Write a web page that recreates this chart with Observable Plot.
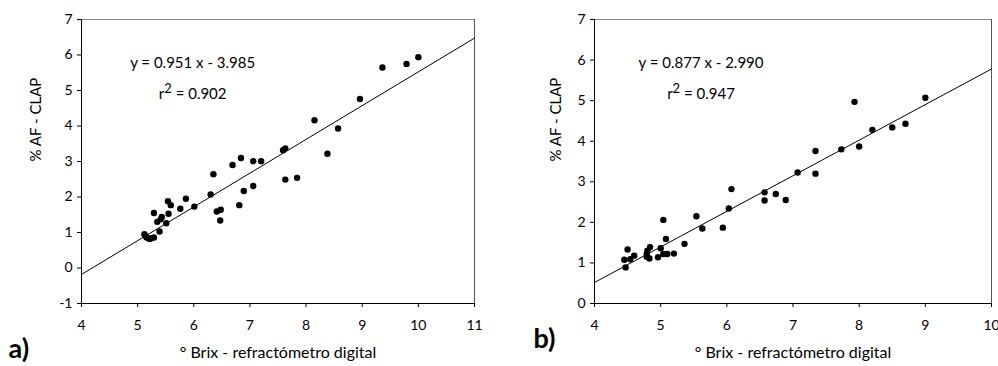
<!DOCTYPE html>
<html><head><meta charset="utf-8">
<script src="https://cdn.jsdelivr.net/npm/d3@7"></script>
<script src="https://cdn.jsdelivr.net/npm/@observablehq/plot@0.6"></script>
<style>
body{margin:0;background:#fff;}
#wrap{position:relative;width:998px;height:366px;overflow:hidden;font-family:Lato,sans-serif;}
#pa{position:absolute;left:0;top:0;}
#pb{position:absolute;left:500px;top:0;}
</style></head><body><div id="wrap"><div id="pa"></div><div id="pb"></div></div>
<script>
// ---- data (panel a) ----
const aBrix = [10.00, 9.79, 9.36, 8.96, 8.15, 8.57, 8.38, 7.63, 7.59, 7.20, 7.06, 6.84, 6.69, 6.35, 7.84, 7.63, 7.06, 6.89, 6.30, 5.86, 5.54, 5.59, 5.76, 6.01, 6.81, 6.41, 6.48, 6.47, 5.29, 5.55, 5.43, 5.41, 5.35, 5.51, 5.39, 5.12, 5.16, 5.21, 5.29, 5.24, 5.14];
const aAF   = [5.94, 5.75, 5.65, 4.76, 4.16, 3.93, 3.22, 3.37, 3.32, 3.01, 3.01, 3.10, 2.90, 2.64, 2.54, 2.49, 2.31, 2.17, 2.07, 1.95, 1.88, 1.77, 1.67, 1.73, 1.77, 1.59, 1.64, 1.34, 1.55, 1.53, 1.44, 1.37, 1.30, 1.26, 1.03, 0.95, 0.86, 0.82, 0.86, 0.84, 0.90];
const aXTicks = [4, 5, 6, 7, 8, 9, 10, 11];
const aYTicks = [-1, 0, 1, 2, 3, 4, 5, 6, 7];
const aSlope = 0.951, aIntercept = -3.985;
const aEquation = "y = 0.951 x - 3.985";
const aR2 = "0.902";
const aTag = "a)";

// ---- data (panel b) ----
const bBrix = [9.00, 7.93, 8.20, 8.50, 8.70, 8.00, 7.73, 7.34, 7.34, 7.07, 6.57, 6.74, 6.57, 6.89, 6.07, 6.03, 5.54, 5.94, 5.63, 5.04, 5.08, 5.36, 5.00, 4.84, 4.80, 4.79, 4.83, 4.79, 4.96, 5.04, 5.10, 5.20, 4.50, 4.60, 4.54, 4.45, 4.47];
const bAF   = [5.07, 4.97, 4.28, 4.34, 4.43, 3.87, 3.80, 3.76, 3.20, 3.23, 2.74, 2.70, 2.54, 2.55, 2.82, 2.34, 2.15, 1.87, 1.85, 2.06, 1.59, 1.47, 1.36, 1.39, 1.30, 1.22, 1.11, 1.15, 1.14, 1.22, 1.22, 1.23, 1.33, 1.18, 1.09, 1.08, 0.89];
const bXTicks = [4, 5, 6, 7, 8, 9, 10];
const bYTicks = [0, 1, 2, 3, 4, 5, 6, 7];
const bSlope = 0.877, bIntercept = -2.990;
const bEquation = "y = 0.877 x - 2.990";
const bR2 = "0.947";
const bTag = "b)";

const xTitle = "° Brix - refractómetro digital";
const yTitle = "% AF - CLAP";

function panel(o) {
  const pts = o.xs.map((x, i) => ({x, y: o.ys[i]}));
  const x0 = o.xTicks[0], x1 = o.xTicks[o.xTicks.length - 1];
  const y0 = o.yTicks[0], y1 = o.yTicks[o.yTicks.length - 1];
  const fit = [x0, x1].map(x => ({x, y: o.slope * x + o.intercept}));
  const fmt = d => String(d);
  const svg = Plot.plot({
    width: o.width, height: 366,
    marginLeft: o.marginLeft, marginRight: o.marginRight, marginTop: 19, marginBottom: 63,
    style: {fontFamily: "Lato, sans-serif", fontSize: "14px", color: "#000", background: "#fff", overflow: "visible"},
    x: {domain: [x0, x1]},
    y: {domain: [y0, y1]},
    marks: [
      Plot.ruleY([y1], {stroke: "#868686"}),
      Plot.ruleX([x1], {stroke: "#555"}),
      Plot.axisX({ticks: o.xTicks, tickFormat: fmt, tickSize: 4, tickPadding: 13, label: null, fontSize: 14}),
      Plot.axisY({ticks: o.yTicks, tickFormat: fmt, tickSize: 4, tickPadding: 5, label: null, fontSize: 14}),
      Plot.ruleX([x0], {stroke: "#000"}),
      Plot.ruleY([y0], {stroke: "#000"}),
      Plot.line(fit, {x: "x", y: "y", stroke: "#000", strokeWidth: 1}),
      Plot.dot(pts, {x: "x", y: "y", r: 3.2, fill: "#000", stroke: "none"}),
      Plot.text([o.eq], {x: o.eqX, y: o.eqY, text: d => d, fontSize: 15, textAnchor: "middle"}),
      Plot.text(["r2 = " + o.r2], {x: o.eqX, y: o.r2Y, text: d => d, fontSize: 15, textAnchor: "middle"}),
      Plot.text([xTitle], {frameAnchor: "bottom", dy: 54, text: d => d, fontSize: 16}),
      Plot.text([yTitle], {frameAnchor: "left", dx: o.yTitleDx, rotate: -90, text: d => d, fontSize: 15}),
      Plot.text([o.tag], {frameAnchor: "bottom-left", dx: o.tagDx, dy: o.tagDy, text: d => d, fontSize: 27, fontWeight: "bold", textAnchor: "start"})
    ]
  });
  // superscript 2 in r²
  d3.select(svg).selectAll("text").filter(function() { return this.textContent === "r2 = " + o.r2; })
    .each(function() {
      const t = d3.select(this);
      t.text("");
      t.append("tspan").text("r");
      t.append("tspan").attr("dy", "-6").attr("font-size", "13").text("2");
      t.append("tspan").attr("dy", "6").text(" = " + o.r2);
    });
  return svg;
}

document.getElementById("pa").append(panel({
  xs: aBrix, ys: aAF, xTicks: aXTicks, yTicks: aYTicks, slope: aSlope, intercept: aIntercept,
  eq: aEquation, r2: aR2, tag: aTag, eqX: 5.98, eqY: 5.76, r2Y: 4.89,
  width: 500, marginLeft: 81, marginRight: 26, yTitleDx: -45, tagDx: -73, tagDy: 54
}));
document.getElementById("pb").append(panel({
  xs: bBrix, ys: bAF, xTicks: bXTicks, yTicks: bYTicks, slope: bSlope, intercept: bIntercept,
  eq: bEquation, r2: bR2, tag: bTag, eqX: 5.61, eqY: 5.92, r2Y: 5.15,
  width: 498, marginLeft: 94, marginRight: 7, yTitleDx: -38, tagDx: -61, tagDy: 44
}));
</script>
</body></html>
